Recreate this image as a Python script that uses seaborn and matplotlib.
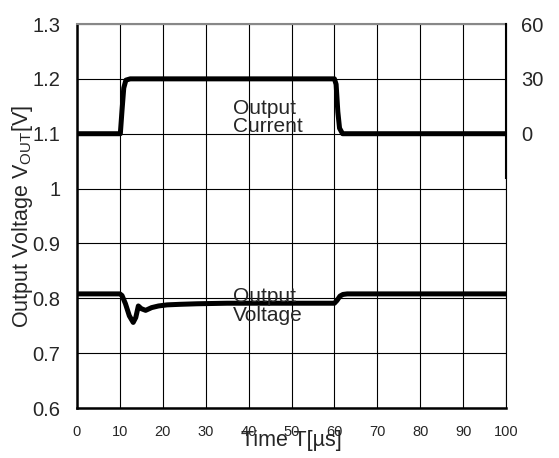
import numpy as np
import pandas as pd
import matplotlib
matplotlib.use("Agg")
import matplotlib.pyplot as plt
import seaborn as sns

# output voltage trace (time in us, volts)
t_v = [0, 10, 10.5, 11.3, 12.2, 13.1, 13.7, 14.3, 15.0, 16.0, 17.4, 19, 21, 24, 28, 35, 45, 55, 60.0, 60.6, 61.3, 62.0, 63.0, 70, 80, 90, 100]
v_out = [0.808, 0.808, 0.805, 0.79, 0.768, 0.756, 0.765, 0.786, 0.781, 0.778, 0.783, 0.786, 0.788, 0.789, 0.79, 0.791, 0.791, 0.791, 0.791, 0.796, 0.804, 0.807, 0.808, 0.808, 0.808, 0.808, 0.808]

# output current trace (time in us, amps)
t_i = [0, 10.1, 10.5, 10.9, 11.4, 12.4, 60.0, 60.4, 60.8, 61.2, 61.9, 100]
i_out = [0, 0, 13, 25, 29.3, 30, 30, 27, 12, 3, 0, 0]

x_ticks = list(range(0, 101, 10))
y_ticks = [0.6, 0.7, 0.8, 0.9, 1.0, 1.1, 1.2, 1.3]
y_labels = ["0.6", "0.7", "0.8", "0.9", "1", "1.1", "1.2", "1.3"]
i_ticks = [0, 30, 60]

sns.set_style("white")
plt.rcParams['font.family'] = ['Liberation Sans', 'DejaVu Sans']
plt.rcParams['mathtext.fontset'] = 'custom'
plt.rcParams['mathtext.rm'] = 'Liberation Sans'

fig = plt.figure(figsize=(5.59, 4.58), dpi=100)
ax = fig.add_axes([77/559, 1 - 408/458, 429/559, 384/458])

df_v = pd.DataFrame({"t": t_v, "v": v_out})
sns.lineplot(data=df_v, x="t", y="v", ax=ax, color="black", lw=3.6)

ax.set_xlim(0, 100)
ax.set_ylim(0.6, 1.3)
ax.set_xticks(x_ticks)
ax.set_yticks(y_ticks)
ax.set_yticklabels(y_labels, fontsize=14.5)
ax.tick_params(axis="x", labelsize=10.5, length=0, pad=12)
ax.tick_params(axis="y", length=0, pad=12)
ax.grid(True, color="black", lw=0.8)
for s in ["left", "bottom"]:
    ax.spines[s].set_color("black")
    ax.spines[s].set_linewidth(1.8)
ax.spines["top"].set_color("#888888")
ax.spines["top"].set_linewidth(1.5)
ax.spines["right"].set_color("black")
ax.spines["right"].set_linewidth(0.8)

ax.set_xlabel("Time T[µs]", fontsize=15.5, labelpad=-6)
ax.set_ylabel("Output Voltage V$_{\\mathrm{OUT}}$[V]", fontsize=15.5, labelpad=-2)

# right axis for current: 0 A at 1.1 V, 30 A per 0.1 V
ax2 = ax.twinx()
df_i = pd.DataFrame({"t": t_i, "i": i_out})
sns.lineplot(data=df_i, x="t", y="i", ax=ax2, color="black", lw=3.6)
ax2.set_ylim(-150, 60)
ax2.set_yticks(i_ticks)
ax2.set_yticklabels([str(v) for v in i_ticks], fontsize=14.5)
ax2.tick_params(axis="y", length=0, pad=11)
ax2.set_ylabel("")
for s in ["left", "bottom", "top"]:
    ax2.spines[s].set_visible(False)
ax2.spines["right"].set_color("black")
ax2.spines["right"].set_linewidth(1.5)
ax2.spines["right"].set_bounds(-24, 60)

ax.text(36.4, 1.163, "Output\nCurrent", fontsize=15, va="top", ha="left", linespacing=0.95)
ax.text(36.4, 0.82, "Output\nVoltage", fontsize=15, va="top", ha="left", linespacing=0.95)

fig.savefig("out.png", dpi=100)
